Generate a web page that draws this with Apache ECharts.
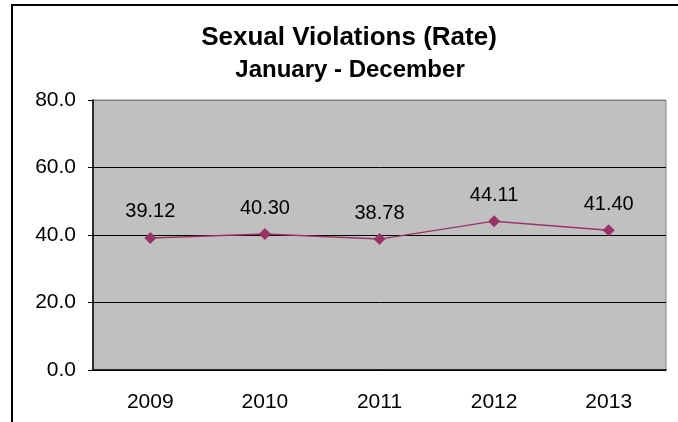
<!DOCTYPE html>
<html>
<head>
<meta charset="utf-8">
<script src="https://cdn.jsdelivr.net/npm/echarts@6/dist/echarts.min.js"></script>
<style>
  html, body { margin: 0; padding: 0; background: #fff; }
  #chart { width: 678px; height: 422px; }
</style>
</head>
<body>
<div id="chart"></div>
<script>
const years = ['2009', '2010', '2011', '2012', '2013']
const rates = [39.12, 40.30, 38.78, 44.11, 41.40]
const yTicks = { min: 0, max: 80, step: 20 }

const font = 'Arial, "Liberation Sans", sans-serif'
const chart = echarts.init(document.getElementById('chart'))

chart.setOption({
  backgroundColor: '#fff',
  animation: false,
  graphic: [
    // outer chart frame (runs off the right and bottom edges)
    { type: 'rect', shape: { x: 12, y: 5, width: 700, height: 460 },
      style: { fill: 'none', stroke: '#000', lineWidth: 2 }, silent: true },
    { type: 'text', x: 349, y: 38,
      style: { text: 'Sexual Violations (Rate)', fontFamily: font, fontWeight: 'bold', fontSize: 26,
               fill: '#000', textAlign: 'center', textVerticalAlign: 'middle' } },
    { type: 'text', x: 350, y: 70,
      style: { text: 'January - December', fontFamily: font, fontWeight: 'bold', fontSize: 24,
               fill: '#000', textAlign: 'center', textVerticalAlign: 'middle' } }
  ],
  grid: {
    left: 93, right: 12, top: 100, bottom: 52,
    show: true, backgroundColor: '#C0C0C0', borderColor: '#808080', borderWidth: 1
  },
  xAxis: {
    type: 'category',
    data: years,
    boundaryGap: true,
    axisLine: { lineStyle: { color: '#000', width: 1.5 } },
    axisTick: { length: 7, lineStyle: { color: '#000' } },
    axisLabel: { color: '#000', fontFamily: font, fontSize: 21, margin: 22 }
  },
  yAxis: {
    type: 'value',
    min: yTicks.min, max: yTicks.max, interval: yTicks.step,
    axisLine: { show: true, lineStyle: { color: '#000', width: 1.5 } },
    axisTick: { show: true, length: 5, lineStyle: { color: '#000' } },
    axisLabel: { color: '#000', fontFamily: font, fontSize: 21, margin: 17,
                 formatter: v => v.toFixed(1) },
    splitLine: { lineStyle: { color: ['#000', '#000', '#000', '#000', '#808080'], width: 1 } }
  },
  series: [{
    type: 'line',
    data: rates,
    symbol: 'diamond',
    symbolSize: 12,
    itemStyle: { color: '#993366' },
    lineStyle: { color: '#993366', width: 1.5 },
    label: {
      show: true, position: 'top', distance: 10,
      color: '#000', fontFamily: font, fontSize: 20,
      formatter: p => p.value.toFixed(2)
    }
  }]
})
</script>
</body>
</html>
